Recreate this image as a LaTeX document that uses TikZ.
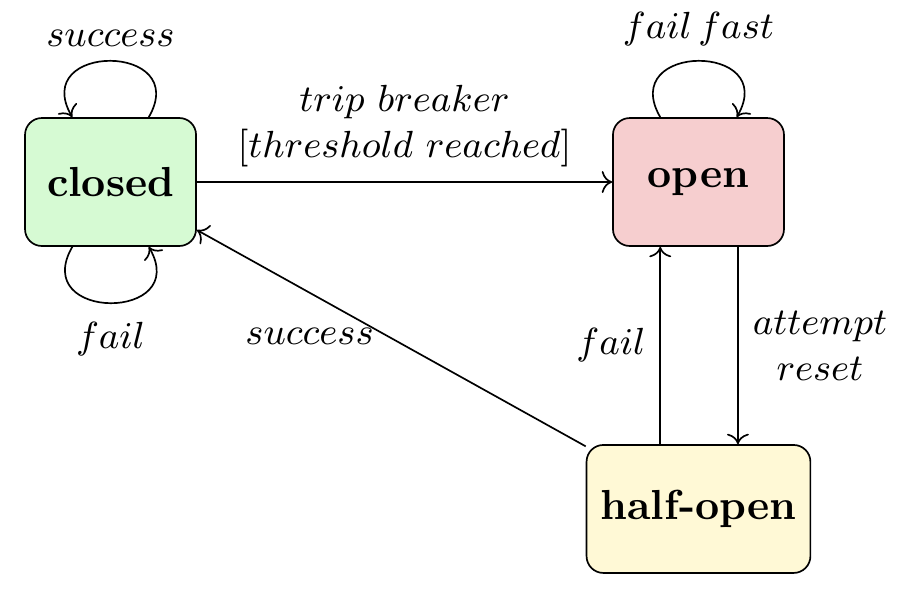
\documentclass[tikz,border=0pt]{standalone}
\usepackage{tikz}
\usetikzlibrary{arrows.meta, positioning, calc}

\definecolor{closedfill}{RGB}{214,250,211}
\definecolor{openfill}{RGB}{246,206,207}
\definecolor{halffill}{RGB}{255,249,214}

\begin{document}
\begin{tikzpicture}[
  every node/.style={font=\normalsize},
  state/.style={rectangle, draw, rounded corners=4pt, minimum width=1.431cm, minimum height=1.071cm, font=\bfseries},
  trans/.style={->},
  lbl/.style={font=\small},
]
  \useasboundingbox (-0.925, 1.523) rectangle (6.690, -3.498);

  % Etats
  \node[state, fill=closedfill] (closed) at (0, 0) {closed};
  \node[state, fill=openfill] (open) at (4.92, 0) {open};
  \node[state, fill=halffill] (half) at (4.92, -2.736) {half-open};

  % Transitions
  \draw[trans] (closed) -- node[above, lbl, align=center]{$trip\ breaker$\\$[threshold\ reached]$} (open);
  \draw[trans] (half) -- node[pos=0.71, below=5pt, lbl]{$success$} (closed);
  \draw[trans] ([xshift=-0.32cm]half.north) -- node[left, lbl]{$fail$} ([xshift=-0.32cm]open.south);
  \draw[trans] ([xshift=0.33cm]open.south) -- node[right, lbl, align=center]{$attempt$\\$reset$} ([xshift=0.33cm]half.north);

  % Boucles
  \draw[trans] ([xshift=0.32cm]closed.north) to[out=60, in=120, looseness=2.9] node[above, lbl]{$success$} ([xshift=-0.32cm]closed.north);
  \draw[trans] ([xshift=-0.32cm]closed.south) to[out=-120, in=-60, looseness=2.9] node[below=1pt, lbl]{$fail$} ([xshift=0.32cm]closed.south);
  \draw[trans] ([xshift=-0.32cm]open.north) to[out=120, in=60, looseness=2.9] node[above, lbl]{$fail\,fast$} ([xshift=0.32cm]open.north);
\end{tikzpicture}
\end{document}
